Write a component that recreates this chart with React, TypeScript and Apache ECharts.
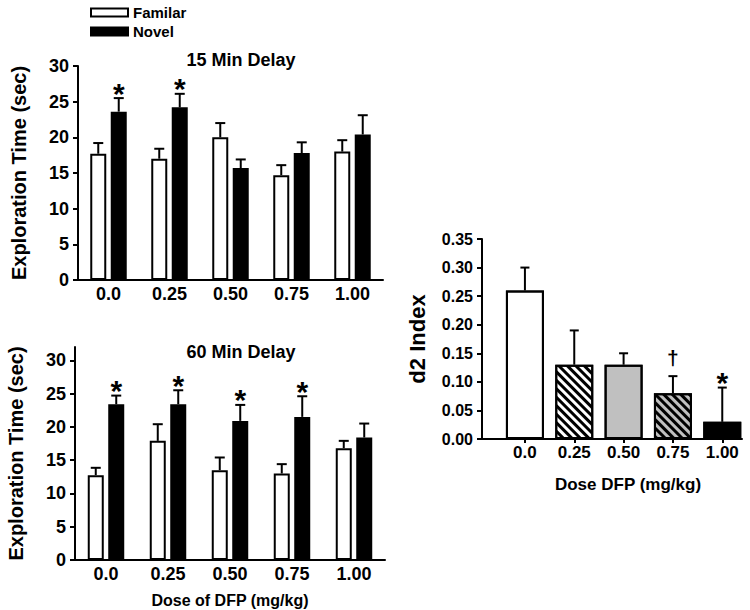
import React, { useEffect, useRef } from 'react';
import * as echarts from 'echarts';

// ---- data ----
const doses = ['0.0', '0.25', '0.50', '0.75', '1.00'];

const fam15 = [17.7, 17.0, 20.0, 14.7, 18.0];
const fam15Sem = [1.5, 1.4, 2.0, 1.4, 1.6];
const nov15 = [23.6, 24.2, 15.7, 17.8, 20.4];
const nov15Sem = [1.9, 1.9, 1.2, 1.5, 2.7];
const nov15Marks = ['*', '*', '', '', ''];

const fam60 = [12.75, 17.9, 13.5, 13.0, 16.8];
const fam60Sem = [1.1, 2.5, 1.9, 1.4, 1.1];
const nov60 = [23.4, 23.4, 20.9, 21.5, 18.4];
const nov60Sem = [1.3, 2.1, 2.4, 3.1, 2.1];
const nov60Marks = ['*', '*', '*', '*', ''];

const d2 = [0.26, 0.13, 0.13, 0.08, 0.03];
const d2Sem = [0.04, 0.06, 0.02, 0.03, 0.06];
const d2Marks = ['', '', '', '\u2020', '*'];

const timeTicks = [0, 5, 10, 15, 20, 25, 30];
const d2Ticks = [0, 0.05, 0.1, 0.15, 0.2, 0.25, 0.3, 0.35];
const doseIdx = [0, 1, 2, 3, 4];

// ---- styles ----
const FONT = '"Liberation Sans", Arial, Helvetica, sans-serif';
const d2Fills = ['#ffffff', '#ffffff', '#c0c0c0', '#c0c0c0', '#000000'];
const d2Hatch = [false, true, false, true, false];

const BW = 16; // left bar width
const GAP = 0.28;
const OFF = (BW + BW * GAP) / 2;

const markStyle: Record<string, { size: number; dy: number }> = {
  '*': { size: 30, dy: -5 },
  '\u2020': { size: 21, dy: -19 },
};

function errSeries(
  axis: number,
  means: number[],
  sems: number[],
  marks: string[],
  offset: number,
  cap: number
) {
  return {
    type: 'custom',
    xAxisIndex: axis,
    yAxisIndex: axis,
    z: 5,
    silent: true,
    data: means.map((m, i) => [i, m, sems[i]]),
    renderItem: (params: any, api: any) => {
      const i = params.dataIndex;
      const x = api.value(0);
      const m = api.value(1);
      const s = api.value(2);
      const p0 = api.coord([x, m]);
      const p1 = api.coord([x, m + s]);
      const cx = p0[0] + offset;
      const children: any[] = [
        {
          type: 'line',
          shape: { x1: cx, y1: p0[1], x2: cx, y2: p1[1] },
          style: { stroke: '#000', lineWidth: 2 },
        },
        {
          type: 'line',
          shape: { x1: cx - cap / 2, y1: p1[1], x2: cx + cap / 2, y2: p1[1] },
          style: { stroke: '#000', lineWidth: 2 },
        },
      ];
      const mk = marks[i];
      if (mk) {
        const ms = markStyle[mk];
        children.push({
          type: 'text',
          x: cx,
          y: p1[1] + ms.dy,
          style: {
            text: mk,
            font: `bold ${ms.size}px ${FONT}`,
            textAlign: 'center',
            textVerticalAlign: 'middle',
            fill: '#000',
          },
        });
      }
      return { type: 'group', children };
    },
  };
}

const axisLine = { show: true, onZero: false, lineStyle: { color: '#000', width: 2 } };
const labelStyle = (size: number) => ({
  fontFamily: FONT,
  fontWeight: 'bold' as const,
  fontSize: size,
  color: '#000',
});

function leftX(grid: number, extra: any = {}) {
  return {
    type: 'category',
    gridIndex: grid,
    data: doses,
    boundaryGap: true,
    axisLine,
    axisTick: { show: false },
    axisLabel: { ...labelStyle(18), margin: 5, interval: 0 },
    splitLine: { show: false },
    ...extra,
  };
}

function timeY(grid: number, max: number) {
  return {
    type: 'value',
    gridIndex: grid,
    min: 0,
    max,
    axisLine,
    axisTick: { show: true, length: 5, lineStyle: { color: '#000', width: 2 }, customValues: timeTicks },
    axisLabel: { ...labelStyle(18), margin: 9, customValues: timeTicks },
    splitLine: { show: false },
    name: 'Exploration Time (sec)',
    nameLocation: 'middle',
    nameRotate: 90,
    nameGap: 49,
    nameTextStyle: labelStyle(20),
  };
}

function barSeries(name: string, axis: number, data: number[], fill: string) {
  return {
    type: 'bar',
    name,
    xAxisIndex: axis,
    yAxisIndex: axis,
    data,
    barWidth: BW,
    barGap: `${GAP * 100}%`,
    itemStyle: { color: fill, borderColor: '#000', borderWidth: 2 },
  };
}

const option: any = {
  animation: false,
  backgroundColor: '#fff',
  legend: {
    data: ['Familar', 'Novel'],
    orient: 'vertical',
    left: 85,
    top: 0,
    icon: 'rect',
    itemWidth: 37,
    itemHeight: 8,
    itemGap: 4,
    selectedMode: false,
    textStyle: labelStyle(15),
  },
  graphic: [
    {
      type: 'text',
      x: 241,
      y: 60,
      style: { text: '15 Min Delay', font: `bold 18px ${FONT}`, textAlign: 'center', textVerticalAlign: 'middle', fill: '#000' },
    },
    {
      type: 'text',
      x: 241,
      y: 352,
      style: { text: '60 Min Delay', font: `bold 18px ${FONT}`, textAlign: 'center', textVerticalAlign: 'middle', fill: '#000' },
    },
  ],
  grid: [
    { left: 78, top: 66, width: 305, height: 214 },
    { left: 75, top: 347, width: 310, height: 213 },
    { left: 482, top: 239, width: 260, height: 200 },
  ],
  xAxis: [
    leftX(0),
    leftX(1, {
      name: 'Dose of DFP (mg/kg)',
      nameLocation: 'middle',
      nameGap: 32,
      nameTextStyle: labelStyle(16),
    }),
    {
      type: 'value',
      gridIndex: 2,
      min: -0.87,
      max: 4.4,
      axisLine,
      axisTick: { show: true, length: 4, lineStyle: { color: '#000', width: 2 }, customValues: doseIdx },
      axisLabel: {
        ...labelStyle(17),
        margin: 5,
        customValues: doseIdx,
        formatter: (v: number) => doses[Math.round(v)],
      },
      splitLine: { show: false },
      name: 'Dose DFP (mg/kg)',
      nameLocation: 'middle',
      nameGap: 37,
      nameTextStyle: { ...labelStyle(17), padding: [0, 0, 0, 32] },
    },
  ],
  yAxis: [
    timeY(0, 30),
    timeY(1, 32),
    {
      type: 'value',
      gridIndex: 2,
      min: 0,
      max: 0.35,
      axisLine,
      axisTick: { show: true, length: 5, lineStyle: { color: '#000', width: 2 }, customValues: d2Ticks },
      axisLabel: {
        ...labelStyle(16),
        margin: 9,
        customValues: d2Ticks,
        formatter: (v: number) => v.toFixed(2),
      },
      splitLine: { show: false },
      name: 'd2 Index',
      nameLocation: 'middle',
      nameRotate: 90,
      nameGap: 54,
      nameTextStyle: labelStyle(22),
    },
  ],
  series: [
    barSeries('Familar', 0, fam15, '#ffffff'),
    barSeries('Novel', 0, nov15, '#000000'),
    barSeries('Familar', 1, fam60, '#ffffff'),
    barSeries('Novel', 1, nov60, '#000000'),
    {
      type: 'bar',
      name: 'd2',
      xAxisIndex: 2,
      yAxisIndex: 2,
      barWidth: 38,
      data: d2.map((v, i) => ({
        value: [i, v],
        itemStyle: {
          color: d2Fills[i],
          borderColor: '#000',
          borderWidth: 2,
          decal: d2Hatch[i]
            ? {
                symbol: 'rect',
                symbolSize: 1,
                dashArrayX: [1, 0],
                dashArrayY: [2.5, 2.5],
                rotation: Math.PI / 4,
                color: '#000',
              }
            : { symbol: 'none' },
        },
      })),
    },
    errSeries(0, fam15, fam15Sem, ['', '', '', '', ''], -OFF, 10),
    errSeries(0, nov15, nov15Sem, nov15Marks, OFF, 10),
    errSeries(1, fam60, fam60Sem, ['', '', '', '', ''], -OFF, 10),
    errSeries(1, nov60, nov60Sem, nov60Marks, OFF, 10),
    errSeries(2, d2, d2Sem, d2Marks, 0, 9),
  ],
};

export default function App() {
  const ref = useRef<HTMLDivElement>(null);
  useEffect(() => {
    const chart = echarts.init(ref.current!, null, { renderer: 'svg' });
    chart.setOption(option);
    return () => chart.dispose();
  }, []);
  return (
    <div
      ref={ref}
      style={{ position: 'absolute', left: 0, top: 0, width: 750, height: 610, background: '#fff' }}
    />
  );
}
